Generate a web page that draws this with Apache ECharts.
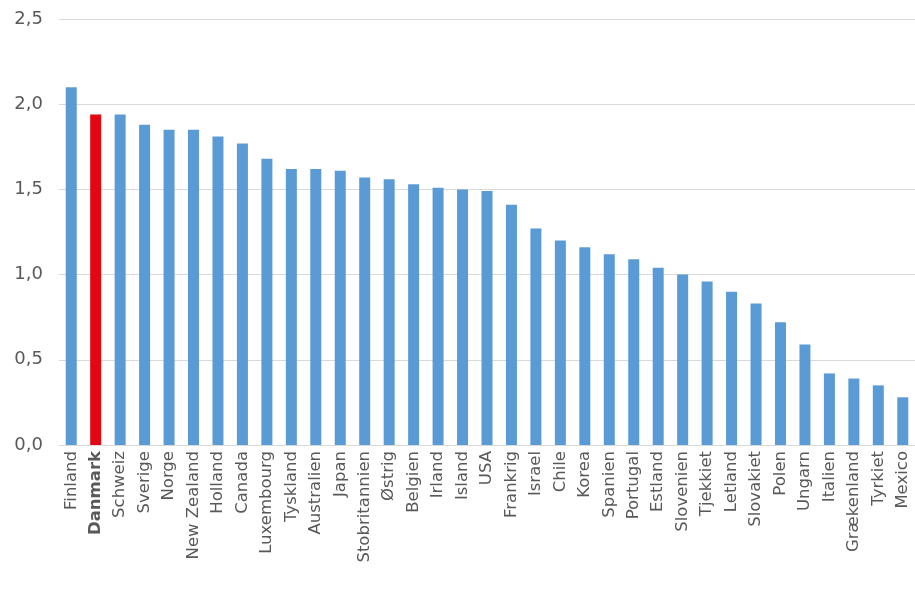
<!DOCTYPE html><html><head><meta charset="utf-8"><script src="https://cdn.jsdelivr.net/npm/echarts@6/dist/echarts.min.js"></script></head><body style="margin:0"><div id="c" style="width:915px;height:593px"></div><script>
const categories=["Finland","Danmark","Schweiz","Sverige","Norge","New Zealand","Holland","Canada","Luxembourg","Tyskland","Australien","Japan","Stobritannien","Østrig","Belgien","Irland","Island","USA","Frankrig","Israel","Chile","Korea","Spanien","Portugal","Estland","Slovenien","Tjekkiet","Letland","Slovakiet","Polen","Ungarn","Italien","Grækenland","Tyrkiet","Mexico"];
const values=[2.10,1.94,1.94,1.88,1.85,1.85,1.81,1.77,1.68,1.62,1.62,1.61,1.57,1.56,1.53,1.51,1.50,1.49,1.41,1.27,1.20,1.16,1.12,1.09,1.04,1.00,0.96,0.90,0.83,0.72,0.59,0.42,0.39,0.35,0.28];
const yTicks=["0,0","0,5","1,0","1,5","2,0","2,5"];
const ch=echarts.init(document.getElementById('c'));
ch.setOption({animation:false,grid:{left:59,width:858,top:19,bottom:148},
xAxis:{type:'category',data:categories,axisTick:{show:false},axisLine:{lineStyle:{color:'#d9d9d9'}},
axisLabel:{rotate:90,interval:0,margin:6,fontFamily:'DejaVu Sans',fontSize:16.5,color:'#595959',
formatter:v=>v==='Danmark'?'{b|'+v+'}':v,rich:{b:{fontWeight:'bold',fontSize:16.5,color:'#595959',fontFamily:'DejaVu Sans'}}}},
yAxis:{type:'value',min:0,max:2.5,interval:0.5,splitLine:{lineStyle:{color:'#d9d9d9'}},
axisLabel:{fontFamily:'DejaVu Sans',fontSize:18,color:'#595959',margin:16,formatter:v=>yTicks[Math.round(v*2)]}},
series:[{type:'bar',barWidth:11,data:values.map((v,i)=>({value:v,itemStyle:{color:categories[i]==='Danmark'?'#e30613':'#5b9bd5'}}))}]});
</script></body></html>
